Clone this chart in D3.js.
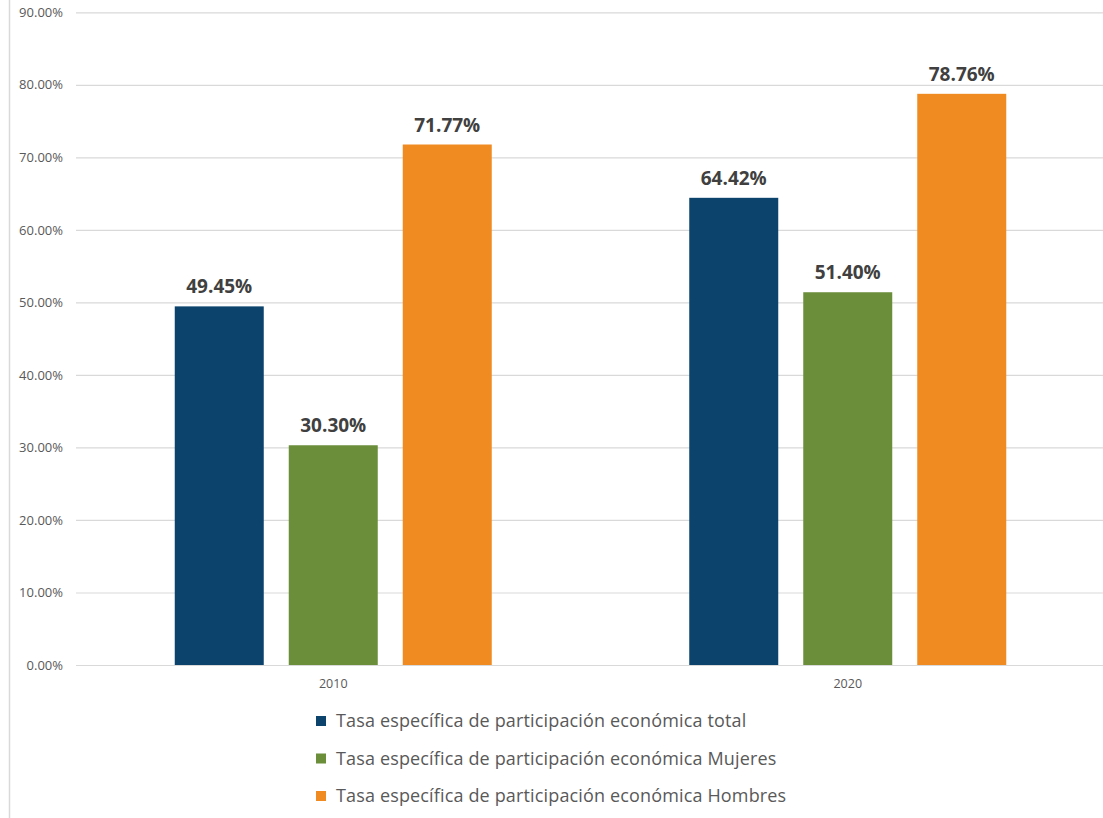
<!DOCTYPE html>
<html><head><meta charset="utf-8">
<script src="https://cdn.jsdelivr.net/npm/d3@7"></script>
<style>body{margin:0;background:#fff}svg{display:block}</style>
</head><body><svg id="c" width="1103" height="818"></svg>
<script>
const categories = ["2010", "2020"];
const seriesNames = [
  "Tasa específica de participación económica total",
  "Tasa específica de participación económica Mujeres",
  "Tasa específica de participación económica Hombres"
];
const totalValues = [49.45, 64.42];
const mujeresValues = [30.30, 51.40];
const hombresValues = [71.77, 78.76];
const yTicks = [0, 10, 20, 30, 40, 50, 60, 70, 80, 90];
const colors = ["#0b436d", "#6b8e3b", "#f08b21"];

const seriesValues = [totalValues, mujeresValues, hombresValues];
const svg = d3.select("#c");
const font = "'Open Sans', 'Segoe UI', sans-serif";

// left border line
svg.append("line").attr("x1", 9.5).attr("x2", 9.5).attr("y1", 0).attr("y2", 818)
  .attr("stroke", "#d9d9d9").attr("stroke-width", 1.5);

const y = d3.scaleLinear().domain([0, 90]).range([665, 12.3]);
const x0 = d3.scaleBand().domain(categories).range([76, 1105]).padding(0);
const groupW = 317;
const x1 = d3.scaleBand().domain(d3.range(3))
  .range([(x0.bandwidth() - groupW) / 2, (x0.bandwidth() + groupW) / 2])
  .paddingInner(25 / 114).paddingOuter(0);

// grid
const yAxis = d3.axisLeft(y).tickValues(yTicks).tickSize(-(1103 - 76))
  .tickFormat(d => d.toFixed(2) + "%");
const ga = svg.append("g").attr("transform", "translate(76,0)").call(yAxis);
ga.select(".domain").remove();
ga.selectAll(".tick line").attr("stroke", "#d9d9d9").attr("stroke-width", 1.2);
ga.selectAll(".tick text").attr("x", -13).attr("fill", "#595959")
  .style("font-family", font).style("font-size", "13px");

// bars
categories.forEach((cat, ci) => {
  const g = svg.append("g").attr("transform", `translate(${x0(cat)},0)`);
  seriesValues.forEach((vals, si) => {
    const v = vals[ci];
    g.append("rect").attr("x", x1(si)).attr("width", x1.bandwidth())
      .attr("y", y(v)).attr("height", y(0) - y(v)).attr("fill", colors[si]);
    g.append("text").attr("x", x1(si) + x1.bandwidth() / 2).attr("y", y(v) - 13)
      .attr("text-anchor", "middle").attr("fill", "#404040")
      .style("font-family", font).style("font-weight", "bold").style("font-size", "19px")
      .text(v.toFixed(2) + "%");
  });
});

// x axis labels
const xAxis = d3.axisBottom(x0).tickSize(0).tickPadding(0);
const gx = svg.append("g").attr("transform", `translate(0,${y(0)})`).call(xAxis);
gx.select(".domain").remove();
gx.selectAll(".tick text").attr("dy", 0).attr("y", 23).attr("fill", "#595959")
  .style("font-family", font).style("font-size", "12.5px");

// legend
const leg = svg.append("g");
seriesNames.forEach((name, i) => {
  const cy = 721 + i * 37.5;
  leg.append("rect").attr("x", 316).attr("y", cy - 5).attr("width", 10).attr("height", 10)
    .attr("fill", colors[i]);
  leg.append("text").attr("x", 336).attr("y", cy).attr("dy", "0.35em")
    .attr("fill", "#595959").style("font-family", font).style("font-size", "18px")
    .style("letter-spacing", "0.15px")
    .text(name);
});
</script></body></html>
